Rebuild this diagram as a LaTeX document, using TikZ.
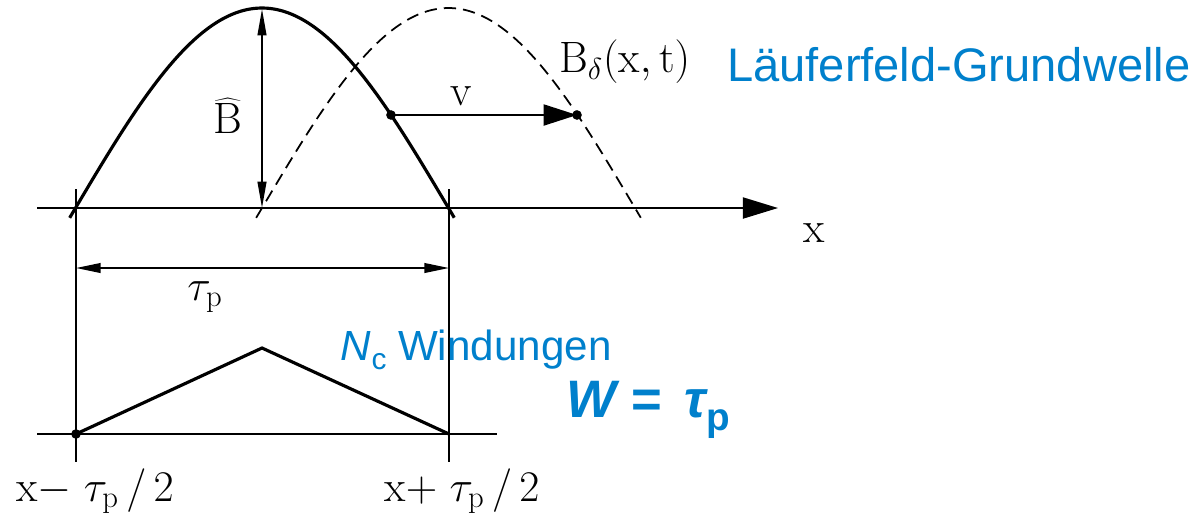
\documentclass[tikz,border=0pt]{standalone}
\usepackage{fontspec}
\newfontfamily\arial{Liberation Sans}
\usetikzlibrary{arrows.meta}
\definecolor{tblue}{RGB}{0,128,204}
\begin{document}
\begin{tikzpicture}[x=0.02cm,y=-0.02cm,
  thinline/.style={line width=1pt},
  thickline/.style={line width=1.8pt},
  dashline/.style={line width=1pt,dash pattern=on 7pt off 4pt},
  bigtip/.style={-{Triangle[length=20pt,width=12pt]}},
  dimtip/.style={{Triangle[length=14pt,width=5.5pt]}-{Triangle[length=14pt,width=5.5pt]}},
  bhtip/.style={{Triangle[length=15pt,width=5pt]}-{Triangle[length=15pt,width=5pt]}},
  vtip/.style={-{Triangle[length=19pt,width=12pt]}},
  serif/.style={font=\fontsize{25}{30}\selectfont},
  bluetext/.style={text=tblue,font=\arial\fontsize{24}{28}\selectfont},
  dot/.style={circle,fill=black,inner sep=0pt,minimum size=5.5pt}
]
\useasboundingbox (0,0) rectangle (1197,522);
% coordinates
\coordinate (axL) at (37,208);
\coordinate (axR) at (778,208);
\coordinate (vlT) at (76,189);
\coordinate (vlB) at (76,462);
\coordinate (vrT) at (449,189);
\coordinate (vrB) at (449,462);
\coordinate (dimL) at (76,268);
\coordinate (dimR) at (449,268);
\coordinate (blL) at (37,434);
\coordinate (blR) at (497,434);
\coordinate (peak) at (262,9);
\coordinate (mid) at (262,208);
\coordinate (tri) at (262,348);
% axes and verticals
\draw[thinline,bigtip] (axL) -- (axR);
\draw[thinline] (vlT) -- (vlB);
\draw[thinline] (vrT) -- (vrB);
\draw[thinline] (blL) -- (blR);
% curves
\draw[thickline] plot[domain=-1.62:1.62,samples=120] ({262+373/pi*\x},{208-200*cos(\x r)});
\draw[dashline] plot[domain=-1.62:1.62,samples=120] ({448.5+373/pi*\x},{208-200*cos(\x r)});
% amplitude arrow
\draw[thinline,bhtip] (peak) -- (mid);
\node[serif] (bhat) at (228,116) {$\widehat{\mathrm{B}}$};
% velocity arrow
\node[dot] (v1) at (391,115) {};
\node[dot] (v2) at (577,115) {};
\draw[thinline,vtip] (v1.center) -- (v2.center);
\node[serif] (vlab) at (461,96) {$\mathrm{v}$};
\node[serif,anchor=west] (bdel) at (553,62) {$\mathrm{B}_{\delta}(\mathrm{x},\mathrm{t})$};
\node[bluetext,anchor=west,font=\arial\fontsize{26.8}{30}\selectfont] (lfg) at (721,65) {Läuferfeld-Grundwelle};
\node[serif] (xlab) at (814,233) {$\mathrm{x}$};
% pole pitch
\draw[thinline,dimtip] (dimL) -- (dimR);
\node[serif] (taup) at (205,297) {$\tau_{\mathrm{p}}$};
% coil
\draw[thickline,line join=miter] (blL -| vlT) -- (tri) -- (blR -| vrT);
\node[dot] (d0) at (blL -| vlT) {};
\node[serif] (lm) at (95,491) {$\mathrm{x}{-}\;\tau_{\mathrm{p}}\,/\,2$};
\node[serif] (lp) at (462,491) {$\mathrm{x}{+}\;\tau_{\mathrm{p}}\,/\,2$};
\node[bluetext,anchor=west] (nc) at (334,350) {\itshape N\kern0.5pt{\upshape\fontsize{17}{20}\selectfont\raisebox{-5pt}{c}} \upshape Windungen};
\node[text=tblue,anchor=west,font=\arial\bfseries\itshape\fontsize{30}{36}\selectfont] (w) at (560,410) {W =\, τ\raisebox{-7pt}{\fontsize{22}{26}\selectfont\upshape p}};
\end{tikzpicture}
\end{document}
